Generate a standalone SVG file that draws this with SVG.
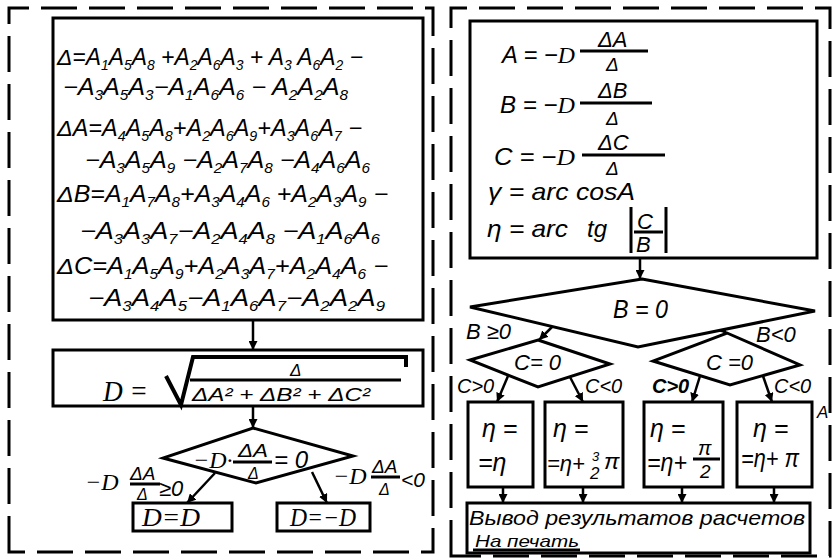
<svg xmlns="http://www.w3.org/2000/svg" width="834" height="560" viewBox="0 0 834 560">
<style>
.ln{fill:none;stroke:#000;stroke-width:3}
.dash{fill:none;stroke:#000;stroke-width:3;stroke-dasharray:36 12}
.bx{fill:#fff;stroke:#000;stroke-width:3}
.cn{fill:none;stroke:#000;stroke-width:2.5;marker-end:url(#ah)}
.t{font-family:"Liberation Sans",Arial,sans-serif;font-style:italic;font-size:25px;fill:#000}
.q{font-size:23px}
.r{font-family:"Liberation Serif","Times New Roman",serif;font-style:italic}
.s{font-size:14px;baseline-shift:-5px}
.m{font-size:22px}
.sm{font-size:19px}
</style>
<defs>
<marker id="ah" viewBox="0 0 10 10" refX="10" refY="5" markerWidth="9" markerHeight="9" markerUnits="userSpaceOnUse" orient="auto">
<path d="M0,0 L10,5 L0,10 z" fill="#000"/>
</marker>
</defs>
<rect width="834" height="560" fill="#fff"/>

<g id="frames">
<path class="dash" d="M9,552 V8 H433 V552 Z"/>
<path class="dash" d="M451,556 V8 H830 V556 Z"/>
</g>

<g id="connectors">
<path class="cn" d="M253,320 V350"/>
<path class="cn" d="M253,406 V428"/>
<path class="cn" d="M215,473 L187,503"/>
<path class="cn" d="M312,472 L327,503"/>
<path class="cn" d="M640,258 V279"/>
<path class="cn" d="M553,326 L539,340"/>
<path class="cn" d="M719,326 L727,334"/>
<path class="cn" d="M508,376 L497,402"/>
<path class="cn" d="M570,377 L583,402"/>
<path class="cn" d="M700,376 L692,402"/>
<path class="cn" d="M763,376 L772,402"/>
<path class="cn" d="M503,487 V503"/>
<path class="cn" d="M583,487 V503"/>
<path class="cn" d="M682,487 V503"/>
<path class="cn" d="M774,487 V503"/>
</g>

<g id="det-box">
<rect class="bx" x="53" y="18" width="370" height="302"/>
<text class="t q" x="57" y="65" textLength="306" lengthAdjust="spacingAndGlyphs">Δ=A<tspan class="s">1</tspan>A<tspan class="s">5</tspan>A<tspan class="s">8</tspan> +A<tspan class="s">2</tspan>A<tspan class="s">6</tspan>A<tspan class="s">3</tspan> + A<tspan class="s">3</tspan> A<tspan class="s">6</tspan>A<tspan class="s">2</tspan> −</text>
<text class="t q" x="63" y="95" textLength="285" lengthAdjust="spacingAndGlyphs">−A<tspan class="s">3</tspan>A<tspan class="s">5</tspan>A<tspan class="s">3</tspan>−A<tspan class="s">1</tspan>A<tspan class="s">6</tspan>A<tspan class="s">6</tspan> − A<tspan class="s">2</tspan>A<tspan class="s">2</tspan>A<tspan class="s">8</tspan></text>
<text class="t q" x="57" y="136" textLength="305" lengthAdjust="spacingAndGlyphs">ΔA=A<tspan class="s">4</tspan>A<tspan class="s">5</tspan>A<tspan class="s">8</tspan>+A<tspan class="s">2</tspan>A<tspan class="s">6</tspan>A<tspan class="s">9</tspan>+A<tspan class="s">3</tspan>A<tspan class="s">6</tspan>A<tspan class="s">7</tspan> −</text>
<text class="t q" x="85" y="168" textLength="285" lengthAdjust="spacingAndGlyphs">−A<tspan class="s">3</tspan>A<tspan class="s">5</tspan>A<tspan class="s">9</tspan> −A<tspan class="s">2</tspan>A<tspan class="s">7</tspan>A<tspan class="s">8</tspan> −A<tspan class="s">4</tspan>A<tspan class="s">6</tspan>A<tspan class="s">6</tspan></text>
<text class="t q" x="57" y="202" textLength="331" lengthAdjust="spacingAndGlyphs">ΔB=A<tspan class="s">1</tspan>A<tspan class="s">7</tspan>A<tspan class="s">8</tspan>+A<tspan class="s">3</tspan>A<tspan class="s">4</tspan>A<tspan class="s">6</tspan> +A<tspan class="s">2</tspan>A<tspan class="s">3</tspan>A<tspan class="s">9</tspan> −</text>
<text class="t q" x="80" y="239" textLength="300" lengthAdjust="spacingAndGlyphs">−A<tspan class="s">3</tspan>A<tspan class="s">3</tspan>A<tspan class="s">7</tspan>−A<tspan class="s">2</tspan>A<tspan class="s">4</tspan>A<tspan class="s">8</tspan> −A<tspan class="s">1</tspan>A<tspan class="s">6</tspan>A<tspan class="s">6</tspan></text>
<text class="t q" x="57" y="274" textLength="331" lengthAdjust="spacingAndGlyphs">ΔC=A<tspan class="s">1</tspan>A<tspan class="s">5</tspan>A<tspan class="s">9</tspan>+A<tspan class="s">2</tspan>A<tspan class="s">3</tspan>A<tspan class="s">7</tspan>+A<tspan class="s">2</tspan>A<tspan class="s">4</tspan>A<tspan class="s">6</tspan> −</text>
<text class="t q" x="88" y="306" textLength="297" lengthAdjust="spacingAndGlyphs">−A<tspan class="s">3</tspan>A<tspan class="s">4</tspan>A<tspan class="s">5</tspan>−A<tspan class="s">1</tspan>A<tspan class="s">6</tspan>A<tspan class="s">7</tspan>−A<tspan class="s">2</tspan>A<tspan class="s">2</tspan>A<tspan class="s">9</tspan></text>
</g>

<g id="d-box">
<rect class="bx" x="53" y="350" width="370" height="56"/>
<text class="t r" x="103" y="401" style="font-size:30px" textLength="45" lengthAdjust="spacingAndGlyphs">D =</text>
<path d="M166,376 L181,405 L193,357 H406 V367" fill="none" stroke="#000" stroke-width="4"/>
<path class="ln" d="M190,380 H401" stroke-width="2"/>
<text class="t" x="290" y="376" style="font-size:17px">Δ</text>
<text class="t" x="192" y="401" style="font-size:19px" textLength="178" lengthAdjust="spacingAndGlyphs">ΔA² + ΔB² +  ΔC²</text>
</g>

<g id="sign-diamond">
<path class="bx" d="M253,428 L353,456 L256,483 L163,458 Z"/>
<text class="t r" x="193" y="468" style="font-size:24px">−D·</text>
<text class="t" x="238" y="457" style="font-size:19px" textLength="30" lengthAdjust="spacingAndGlyphs">ΔA</text>
<path class="ln" d="M233,462 H272" stroke-width="2"/>
<text class="t" x="248" y="479" style="font-size:16px">Δ</text>
<text class="t" x="274" y="468" style="font-size:24px">= 0</text>
</g>

<g id="sign-labels">
<text class="t r" x="85" y="490" style="font-size:24px">−D</text>
<text class="t" x="130" y="480" style="font-size:19px">ΔA</text>
<path class="ln" d="M130,484 H160" stroke-width="2"/>
<text class="t" x="137" y="500" style="font-size:16px">Δ</text>
<text class="t" x="159" y="496" style="font-size:22px">≥0</text>
<text class="t r" x="333" y="484" style="font-size:24px">−D</text>
<text class="t" x="372" y="473" style="font-size:19px">ΔA</text>
<path class="ln" d="M371,477 H400" stroke-width="2"/>
<text class="t" x="379" y="495" style="font-size:16px">Δ</text>
<text class="t" x="401" y="487" style="font-size:21px">&lt;0</text>
</g>

<g id="d-pos">
<rect class="bx" x="133" y="503" width="99" height="28"/>
<text class="t r" x="142" y="526" style="font-size:25px" textLength="58" lengthAdjust="spacingAndGlyphs">D=D</text>
</g>
<g id="d-neg">
<rect class="bx" x="277" y="503" width="93" height="28"/>
<text class="t r" x="290" y="526" style="font-size:25px" textLength="66" lengthAdjust="spacingAndGlyphs">D=−D</text>
</g>

<g id="angle-box">
<rect class="bx" x="470" y="21" width="347" height="237"/>
<text class="t" x="502" y="63" style="font-size:24px" textLength="73" lengthAdjust="spacingAndGlyphs">A = −<tspan class="r">D</tspan></text>
<text class="t m" x="598" y="47">ΔA</text>
<path class="ln" d="M580,51 H648" stroke-width="2.5"/>
<text class="t sm" x="606" y="71">Δ</text>
<text class="t" x="500" y="113" style="font-size:24px" textLength="75" lengthAdjust="spacingAndGlyphs">B = −<tspan class="r">D</tspan></text>
<text class="t m" x="598" y="98">ΔB</text>
<path class="ln" d="M580,103 H652" stroke-width="2.5"/>
<text class="t sm" x="606" y="125">Δ</text>
<text class="t" x="494" y="165" style="font-size:24px" textLength="81" lengthAdjust="spacingAndGlyphs">C = −<tspan class="r">D</tspan></text>
<text class="t m" x="598" y="150">ΔC</text>
<path class="ln" d="M582,155 H665" stroke-width="2.5"/>
<text class="t sm" x="606" y="175">Δ</text>
<text class="t" x="488" y="200" style="font-size:24px" textLength="147" lengthAdjust="spacingAndGlyphs">γ = arc cosA</text>
<text class="t" x="487" y="237" style="font-size:24px" textLength="81" lengthAdjust="spacingAndGlyphs">η = arc</text>
<text class="t" x="587" y="237" style="font-size:24px">tg</text>
<path class="ln" d="M631,207 V253 M666,207 V253" stroke-width="2.5"/>
<text class="t m" x="637" y="229">C</text>
<path class="ln" d="M634,232 H663" stroke-width="2.5"/>
<text class="t m" x="636" y="252">B</text>
</g>

<g id="b-diamond">
<path class="bx" d="M642,279 L815,311 L638,347 L470,307 Z"/>
<text class="t" x="613" y="318" style="font-size:26px" textLength="55" lengthAdjust="spacingAndGlyphs">B = 0</text>
</g>
<g id="b-labels">
<text class="t" x="466" y="339" style="font-size:22px">B ≥0</text>
<text class="t" x="756" y="342" style="font-size:22px">B&lt;0</text>
</g>

<g id="c-diamond-left">
<path class="bx" d="M538,340 L610,364 L538,387 L470,360 Z"/>
<text class="t" x="514" y="370" style="font-size:22px">C= 0</text>
</g>
<g id="c-diamond-right">
<path class="bx" d="M727,333 L800,365 L730,385 L653,361 Z"/>
<text class="t" x="706" y="370" style="font-size:22px">C =0</text>
</g>
<g id="c-labels">
<text class="t" x="457" y="393" style="font-size:20px">C&gt;0</text>
<text class="t" x="585" y="393" style="font-size:20px">C&lt;0</text>
<text class="t" x="652" y="393" style="font-size:20px;font-weight:bold">C&gt;0</text>
<text class="t" x="774" y="393" style="font-size:20px">C&lt;0</text>
</g>

<g id="eta-1">
<rect class="bx" x="468" y="402" width="65" height="85"/>
<text class="t" x="482" y="437" style="font-size:25px">η =</text>
<text class="t" x="478" y="471" style="font-size:25px">=η</text>
</g>
<g id="eta-2">
<rect class="bx" x="545" y="402" width="78" height="85"/>
<text class="t" x="553" y="437" style="font-size:25px">η =</text>
<text class="t" x="547" y="471" style="font-size:22px">=η+</text>
<text class="t" x="592" y="461" style="font-size:13px">3</text>
<text class="t" x="590" y="479" style="font-size:17px">2</text>
<text class="t" x="604" y="469" style="font-size:23px">π</text>
</g>
<g id="eta-3">
<rect class="bx" x="644" y="402" width="79" height="85"/>
<text class="t" x="650" y="437" style="font-size:25px">η =</text>
<text class="t" x="647" y="471" style="font-size:25px" textLength="40" lengthAdjust="spacingAndGlyphs">=η+</text>
<text class="t" x="698" y="455" style="font-size:20px">π</text>
<path class="ln" d="M693,459 H720" stroke-width="2.5"/>
<text class="t" x="700" y="478" style="font-size:19px">2</text>
</g>
<g id="eta-4">
<rect class="bx" x="737" y="402" width="75" height="85"/>
<text class="t" x="753" y="437" style="font-size:25px">η =</text>
<text class="t" x="741" y="467" style="font-size:25px" textLength="58" lengthAdjust="spacingAndGlyphs">=η+ π</text>
</g>

<g id="output-box">
<rect class="bx" x="467" y="503" width="343" height="50"/>
<text class="t" x="469" y="525" style="font-size:21px" textLength="336" lengthAdjust="spacingAndGlyphs">Вывод результатов расчетов</text>
<text class="t" x="475" y="547" style="font-size:17px" textLength="104" lengthAdjust="spacingAndGlyphs">На печать</text>
<path class="ln" d="M473,550 H580" stroke-width="2"/>
</g>

<text class="t" x="817" y="418" style="font-size:17px">A</text>
</svg>
